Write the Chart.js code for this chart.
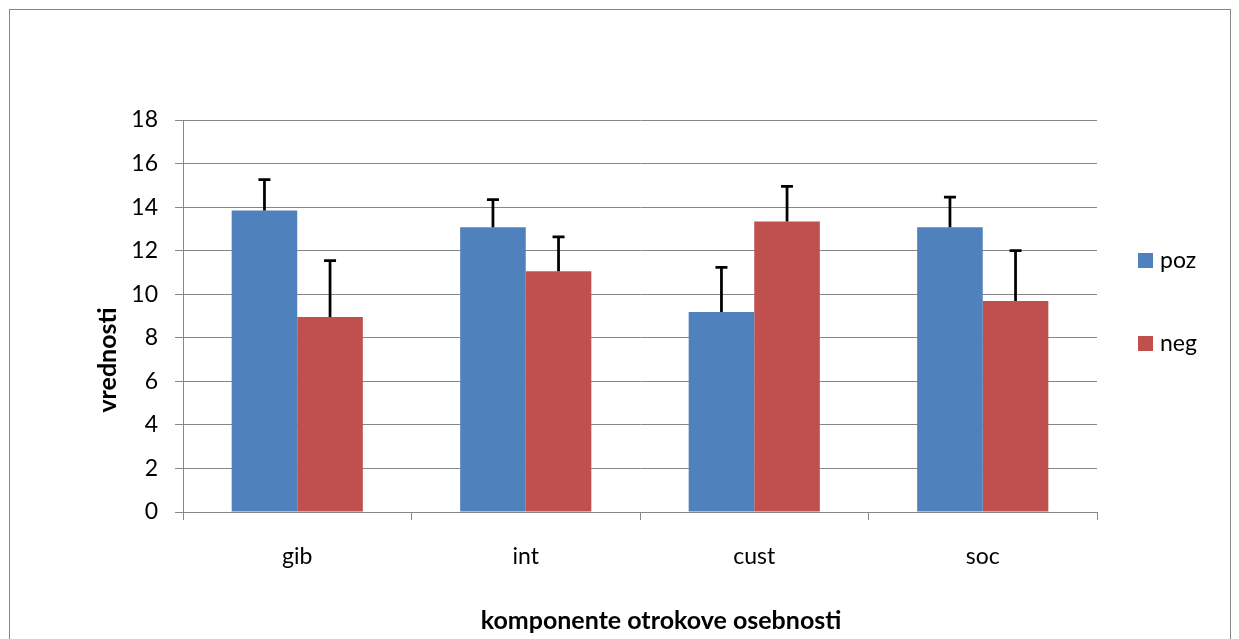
<!DOCTYPE html>
<html lang="sl">
<head>
<meta charset="UTF-8">
<title>komponente otrokove osebnosti</title>
<style>
  html, body { margin: 0; padding: 0; background: #fff; }
  #wrap { position: relative; width: 1239px; height: 639px; }
</style>
</head>
<body>
<div id="wrap"><canvas id="chart" width="1239" height="639"></canvas></div>
<script src="https://cdn.jsdelivr.net/npm/chart.js"></script>
<script>
// podatki
const categories = ['gib', 'int', 'cust', 'soc'];
const pozValues = [13.85, 13.08, 9.18, 13.08];
const negValues = [8.95, 11.06, 13.34, 9.69];
const pozErrors = [1.41, 1.26, 2.05, 1.38];
const negErrors = [2.59, 1.57, 1.61, 2.31];
const yTicks = [0, 2, 4, 6, 8, 10, 12, 14, 16, 18];
const xTitle = 'komponente otrokove osebnosti';
const yTitle = 'vrednosti';

const FONT = 'Lato, "Open Sans", sans-serif';

// okvir okoli grafa
const framePlugin = {
  id: 'frame',
  beforeDraw(chart) {
    const ctx = chart.ctx;
    ctx.save();
    ctx.strokeStyle = '#868686';
    ctx.lineWidth = 1;
    ctx.strokeRect(9.5, 9.5, 1221, 660);
    ctx.restore();
  }
};

// napake (samo navzgor)
const errorBarPlugin = {
  id: 'errorBars',
  afterDatasetsDraw(chart) {
    const ctx = chart.ctx;
    const yScale = chart.scales.y;
    ctx.save();
    ctx.strokeStyle = '#000';
    ctx.lineWidth = 2.75;
    chart.data.datasets.forEach((ds, i) => {
      const meta = chart.getDatasetMeta(i);
      meta.data.forEach((bar, j) => {
        const top = yScale.getPixelForValue(ds.data[j] + ds.errors[j]);
        ctx.beginPath();
        ctx.moveTo(bar.x, bar.y);
        ctx.lineTo(bar.x, top);
        ctx.moveTo(bar.x - 6, top);
        ctx.lineTo(bar.x + 6, top);
        ctx.stroke();
      });
    });
    ctx.restore();
  }
};

// legenda desno in naslova osi (kot v Excelu, malo zamaknjena)
const legendPlugin = {
  id: 'sideLegend',
  afterDraw(chart) {
    const ctx = chart.ctx;
    const area = chart.chartArea;
    const mid = (area.top + area.bottom) / 2;
    const x = area.right + 41;
    ctx.save();
    ctx.font = '23px ' + FONT;
    ctx.textBaseline = 'middle';
    chart.data.datasets.forEach((ds, i) => {
      const cy = mid - 55.5 + i * 83;
      ctx.fillStyle = ds.backgroundColor;
      ctx.fillRect(x, cy - 7.5, 15, 15);
      ctx.fillStyle = '#000';
      ctx.fillText(ds.label, x + 22, cy);
    });

    ctx.font = 'bold 25px ' + FONT;
    ctx.textAlign = 'center';
    ctx.fillText(xTitle, (area.left + area.right) / 2 + 21, 621);
    ctx.translate(108, mid + 44);
    ctx.rotate(-Math.PI / 2);
    ctx.fillText(yTitle, 0, 0);
    ctx.restore();
  }
};

new Chart(document.getElementById('chart'), {
  type: 'bar',
  data: {
    labels: categories,
    datasets: [
      { label: 'poz', data: pozValues, errors: pozErrors, backgroundColor: '#4F81BD' },
      { label: 'neg', data: negValues, errors: negErrors, backgroundColor: '#C0504D' }
    ]
  },
  options: {
    responsive: false,
    animation: false,
    layout: { padding: { left: 95, right: 142, top: 120, bottom: 0 } },
    categoryPercentage: 0.574,
    barPercentage: 1,
    plugins: {
      legend: { display: false },
      tooltip: { enabled: false }
    },
    scales: {
      x: {
        grid: { drawOnChartArea: false, drawTicks: true, tickLength: 8, color: '#868686' },
        border: { color: '#868686' },
        ticks: { color: '#000', font: { family: FONT, size: 23 }, padding: 23 },
        afterFit: s => { s.height = 127; }
      },
      y: {
        min: 0,
        max: 18,
        afterBuildTicks: s => { s.ticks = yTicks.map(v => ({ value: v })); },
        grid: { color: '#868686', tickLength: 8 },
        border: { color: '#868686' },
        ticks: { color: '#000', font: { family: FONT, size: 23 }, padding: 17 },
        afterFit: s => { s.width = 88; }
      }
    }
  },
  plugins: [framePlugin, errorBarPlugin, legendPlugin]
});
</script>
</body>
</html>
